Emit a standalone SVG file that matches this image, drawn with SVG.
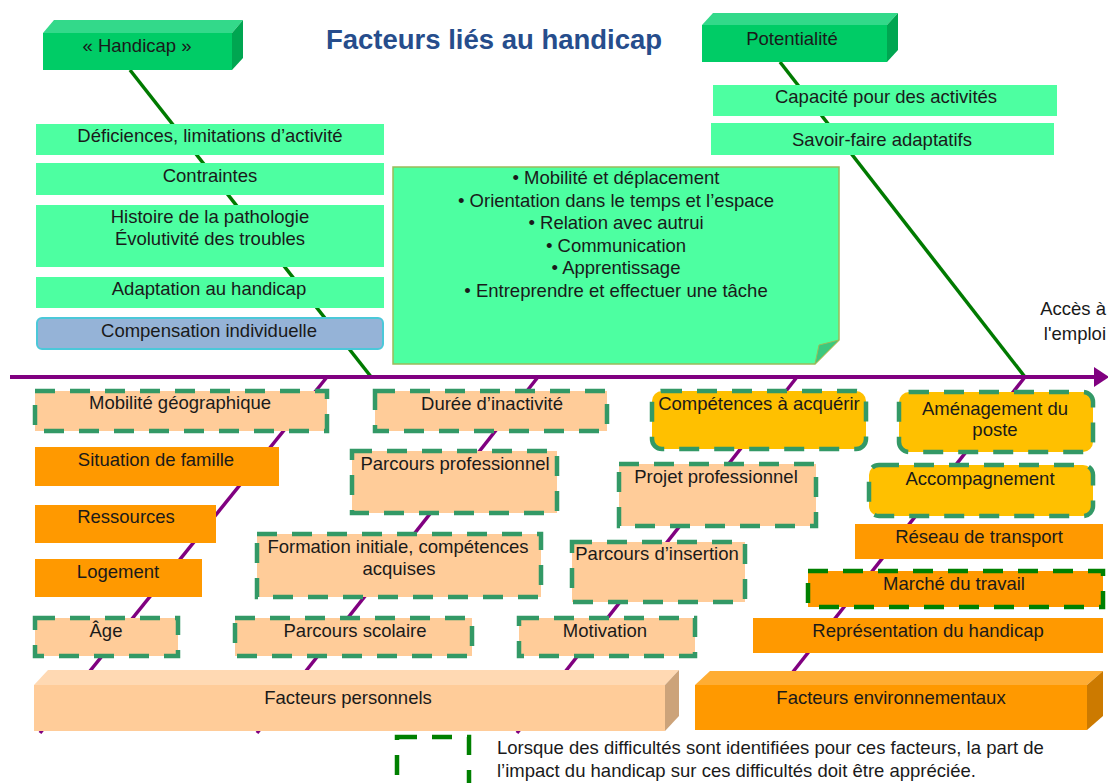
<svg xmlns="http://www.w3.org/2000/svg" width="1108" height="783" viewBox="0 0 1108 783">
<style>
text{font-family:"Liberation Sans",Arial,sans-serif;font-size:18.5px;fill:#1a1a1a;text-anchor:middle}
.title{font-size:27.5px;font-weight:bold;fill:#264D8C}
.lt{text-anchor:start}
.en{text-anchor:end}
.mint{fill:#4DFFA1}
.peach{fill:#FFCC99}
.orange{fill:#FF9900}
.gold{fill:#FFC000}
.dash{stroke:#339966;stroke-width:4.5;stroke-dasharray:20 15}
.dashdk{stroke:#008000;stroke-width:4.5;stroke-dasharray:20 15}
.rib{stroke:#800080;stroke-width:3.5;fill:none}
.gline{stroke:#007A00;stroke-width:3.5;fill:none}
</style>
<rect width="1108" height="783" fill="#ffffff"/>
<text class="title" x="494" y="49">Facteurs liés au handicap</text>
<g id="connectors">
<line class="gline" x1="130" y1="70" x2="372" y2="378"/>
<line class="gline" x1="780" y1="62" x2="1025" y2="377"/>
<line class="rib" x1="327" y1="377" x2="40" y2="733"/>
<line class="rib" x1="538" y1="377" x2="257" y2="733"/>
<line class="rib" x1="797" y1="377" x2="517" y2="733"/>
<line class="rib" x1="1025" y1="377" x2="785" y2="682"/>
<line x1="10" y1="377" x2="1098" y2="377" stroke="#800080" stroke-width="4"/>
<polygon points="1094,367 1109,377 1094,387" fill="#800080"/>
</g>
<g id="handicap">
<rect x="43" y="33" width="189" height="37" fill="#00CC66"/>
<polygon points="43,33 54,20 243,20 232,33" fill="#33D98A"/>
<polygon points="232,33 243,20 243,58 232,70" fill="#00A651"/>
<text x="137" y="52">« Handicap »</text>
</g>
<g id="potentialite">
<rect x="702" y="25" width="185" height="37" fill="#00CC66"/>
<polygon points="702,25 713,13 898,13 887,25" fill="#33D98A"/>
<polygon points="887,25 898,13 898,50 887,62" fill="#00A651"/>
<text x="792" y="45">Potentialité</text>
</g>
<g id="deficiences"><rect class="mint" x="36" y="124" width="348" height="31"/><text x="210" y="142">Déficiences, limitations d’activité</text></g>
<g id="contraintes"><rect class="mint" x="36" y="163" width="348" height="32"/><text x="210" y="182">Contraintes</text></g>
<g id="histoire"><rect class="mint" x="36" y="205" width="348" height="62"/><text x="210" y="223">Histoire de la pathologie</text><text x="210" y="245">Évolutivité des troubles</text></g>
<g id="adaptation"><rect class="mint" x="36" y="277" width="348" height="31"/><text x="209" y="295">Adaptation au handicap</text></g>
<g id="compensation"><rect x="37" y="318" width="346" height="31" rx="5" fill="#95B3D7" stroke="#4BC8D9" stroke-width="2"/><text x="209" y="337">Compensation individuelle</text></g>
<g id="capacite"><rect class="mint" x="713" y="85" width="344" height="31"/><text x="886" y="103">Capacité pour des activités</text></g>
<g id="savoirfaire"><rect class="mint" x="711" y="123" width="343" height="32"/><text x="882" y="146">Savoir-faire adaptatifs</text></g>
<g id="note">
<polygon points="393,167 839,167 839,340 815,364 393,364" fill="#4DFFA1" stroke="#9BBB59" stroke-width="1.5"/>
<polygon points="815,364 839,340 819,345" fill="#3CC87E" stroke="#9BBB59" stroke-width="1"/>
<text x="616" y="184">• Mobilité et déplacement</text>
<text x="616" y="206.5">• Orientation dans le temps et l’espace</text>
<text x="616" y="229">• Relation avec autrui</text>
<text x="616" y="251.5">• Communication</text>
<text x="616" y="274">• Apprentissage</text>
<text x="616" y="296.5">• Entreprendre et effectuer une tâche</text>
</g>
<g id="acces"><text class="en" x="1106" y="315">Accès à</text><text class="en" x="1106" y="340">l'emploi</text></g>
<g id="mobilite"><rect class="peach dash" x="35" y="391" width="292" height="40"/><text x="180" y="409">Mobilité géographique</text></g>
<g id="situation"><rect class="orange" x="35" y="447" width="244" height="39"/><text x="156" y="466">Situation de famille</text></g>
<g id="ressources"><rect class="orange" x="35" y="505" width="181" height="38"/><text x="126" y="523">Ressources</text></g>
<g id="logement"><rect class="orange" x="35" y="559" width="167" height="38"/><text x="118" y="578">Logement</text></g>
<g id="duree"><rect class="peach dash" x="375" y="391" width="232" height="40"/><text x="492" y="410">Durée d’inactivité</text></g>
<g id="parcourspro"><rect class="peach dash" x="352" y="451" width="205" height="62"/><text x="455" y="470">Parcours professionnel</text></g>
<g id="formation"><rect class="peach dash" x="257" y="534" width="284" height="63"/><text x="398" y="553">Formation initiale, compétences</text><text x="399" y="575">acquises</text></g>
<g id="competences"><rect class="gold dash" x="652" y="391" width="214" height="58" rx="10"/><text x="759" y="410">Compétences à acquérir</text></g>
<g id="projet"><rect class="peach dash" x="619" y="464" width="197" height="62"/><text x="716" y="483">Projet professionnel</text></g>
<g id="insertion"><rect class="peach dash" x="572" y="542" width="173" height="60"/><text x="657" y="560">Parcours d’insertion</text></g>
<g id="amenagement"><rect class="gold dash" x="899" y="392" width="194" height="60" rx="10"/><text x="995" y="415">Aménagement du</text><text x="995" y="436">poste</text></g>
<g id="accompagnement"><rect class="gold dash" x="869" y="465" width="224" height="51" rx="10"/><text x="980" y="485">Accompagnement</text></g>
<g id="reseau"><rect class="orange" x="855" y="524" width="248" height="35"/><text x="979" y="543">Réseau de transport</text></g>
<g id="marche"><rect class="orange dashdk" x="808" y="571" width="295" height="36"/><text x="954" y="590">Marché du travail</text></g>
<g id="representation"><rect class="orange" x="753" y="618" width="350" height="35"/><text x="928" y="637">Représentation du handicap</text></g>
<g id="age"><rect class="peach dash" x="35" y="618" width="143" height="38"/><text x="106" y="637">Âge</text></g>
<g id="scolaire"><rect class="peach dash" x="235" y="618" width="237" height="38"/><text x="355" y="637">Parcours scolaire</text></g>
<g id="motivation"><rect class="peach dash" x="519" y="618" width="176" height="38"/><text x="605" y="637">Motivation</text></g>
<g id="facteurs-personnels">
<rect x="34" y="685" width="631" height="46" fill="#FFCC99"/>
<polygon points="34,685 48,670 679,670 665,685" fill="#FFD9B3"/>
<polygon points="665,685 679,670 679,716 665,731" fill="#CCA37A"/>
<text x="348" y="704">Facteurs personnels</text>
</g>
<g id="facteurs-environnementaux">
<rect x="695" y="685" width="392" height="45" fill="#FF9900"/>
<polygon points="695,685 710,671 1103,671 1087,685" fill="#FFAD33"/>
<polygon points="1087,685 1103,671 1103,716 1087,730" fill="#CC7A00"/>
<text x="891" y="704">Facteurs environnementaux</text>
</g>
<g id="legend">
<rect x="397" y="737" width="72" height="52" fill="none" class="dashdk"/>
<text class="lt" x="497" y="754">Lorsque des difficultés sont identifiées pour ces facteurs, la part de</text>
<text class="lt" x="497" y="777">l’impact du handicap sur ces difficultés doit être appréciée.</text>
</g>
</svg>
